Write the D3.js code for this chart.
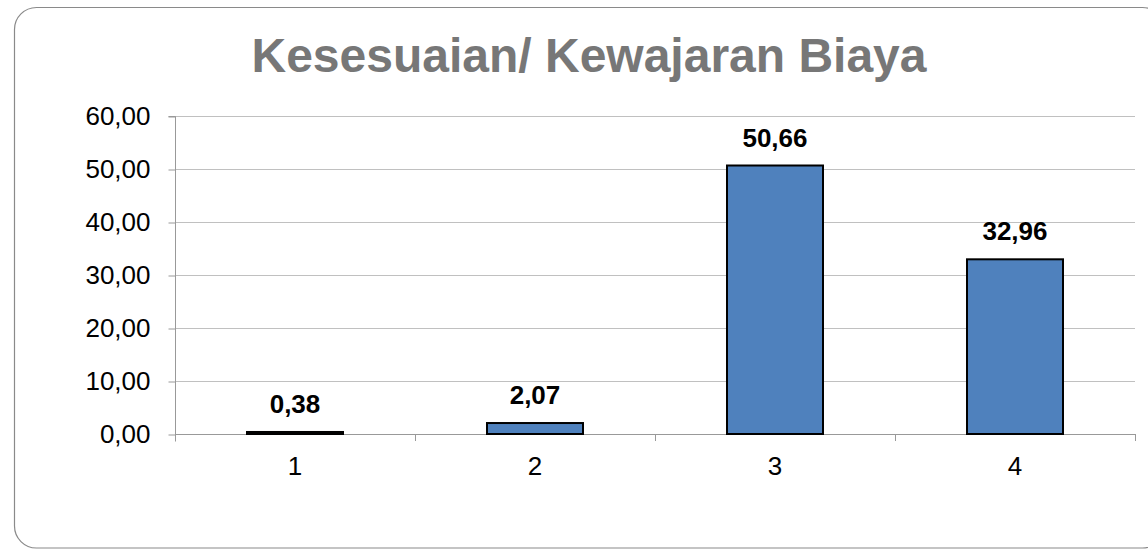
<!DOCTYPE html>
<html>
<head>
<meta charset="utf-8">
<script src="https://cdn.jsdelivr.net/npm/d3@7"></script>
<style>
  html, body { margin: 0; padding: 0; background: #fff; }
  svg { display: block; }
</style>
</head>
<body>
<svg id="chart" width="1148" height="550"></svg>
<script>
const categories = ["1", "2", "3", "4"];
const values = [0.38, 2.07, 50.66, 32.96];
const yTicks = [0, 10, 20, 30, 40, 50, 60];
const title = "Kesesuaian/ Kewajaran Biaya";

(function () {
const svg = d3.select("#chart");
const font = "'Liberation Sans', Arial, sans-serif";

// frame
svg.append("rect")
  .attr("x", 14.5).attr("y", 7.5)
  .attr("width", 1150).attr("height", 540.5)
  .attr("rx", 22).attr("ry", 22)
  .attr("fill", "#fff").attr("stroke", "#8a8a8a").attr("stroke-width", 1.2);

const pl = 175, pr = 1135, pt = 116, pb = 434;

const x = d3.scaleBand().domain(categories).range([pl, pr])
  .paddingInner(0.6).paddingOuter(0.3);
const y = d3.scaleLinear().domain([0, 60]).range([pb, pt]);

// title
svg.append("text")
  .attr("x", 589).attr("y", 72)
  .attr("text-anchor", "middle")
  .attr("font-family", font).attr("font-weight", "bold")
  .attr("font-size", 48).attr("fill", "#777777")
  .text(title);

// gridlines
svg.append("g").selectAll("line").data(yTicks.filter(d => d > 0)).join("line")
  .attr("x1", pl).attr("x2", pr)
  .attr("y1", d => Math.round(y(d)) + 0.5).attr("y2", d => Math.round(y(d)) + 0.5)
  .attr("stroke", "#c0c0c0").attr("stroke-width", 1);

// y axis
const yAxis = d3.axisLeft(y).tickValues(yTicks).tickSize(7).tickPadding(18)
  .tickFormat(d => d3.format(".2f")(d).replace(".", ","));
const gy = svg.append("g").attr("transform", `translate(${pl + 0.5},0.5)`).call(yAxis);
gy.select(".domain").attr("stroke", "#999").attr("d", `M-7,${pt}H0V${pb + 7}`);
gy.selectAll(".tick line").attr("stroke", "#999");
gy.selectAll(".tick text").attr("font-family", font).attr("font-size", 26).attr("fill", "#000");

// x axis baseline + category tick marks
const xg = svg.append("g");
xg.append("line").attr("x1", pl).attr("x2", pr)
  .attr("y1", pb + 0.5).attr("y2", pb + 0.5).attr("stroke", "#999");
const step = x.step();
const boundaries = categories.map((c, i) => pl + step * (i + 1));
xg.selectAll("line.b").data(boundaries).join("line").attr("class", "b")
  .attr("x1", d => Math.round(d) + 0.5).attr("x2", d => Math.round(d) + 0.5)
  .attr("y1", pb).attr("y2", pb + 7).attr("stroke", "#999");
xg.selectAll("text").data(categories).join("text")
  .attr("x", d => x(d) + x.bandwidth() / 2).attr("y", 475)
  .attr("text-anchor", "middle")
  .attr("font-family", font).attr("font-size", 26).attr("fill", "#000")
  .text(d => d);

// bars
svg.append("g").selectAll("rect").data(values).join("rect")
  .attr("x", (d, i) => x(categories[i]))
  .attr("y", d => y(d))
  .attr("width", x.bandwidth())
  .attr("height", d => pb - y(d))
  .attr("fill", "#4F81BD").attr("stroke", "#000").attr("stroke-width", 2);

// data labels
svg.append("g").selectAll("text").data(values).join("text")
  .attr("x", (d, i) => x(categories[i]) + x.bandwidth() / 2)
  .attr("y", d => y(d) - 19)
  .attr("text-anchor", "middle")
  .attr("font-family", font).attr("font-weight", "bold")
  .attr("font-size", 26).attr("fill", "#000")
  .text(d => d3.format(".2f")(d).replace(".", ","));
})();
</script>
</body>
</html>
